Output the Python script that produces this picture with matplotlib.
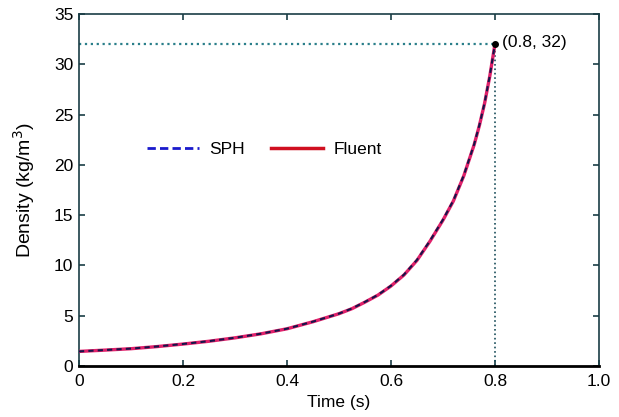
import matplotlib
matplotlib.use("Agg")
import matplotlib.pyplot as plt
from matplotlib.lines import Line2D

plt.rcParams['font.family'] = ['Liberation Sans', 'DejaVu Sans']

time_fluent = [0.0, 0.05, 0.1, 0.15, 0.2, 0.25, 0.3, 0.35, 0.4, 0.45, 0.5, 0.525, 0.55,
               0.575, 0.6, 0.625, 0.65, 0.675, 0.7, 0.72, 0.74, 0.76, 0.77, 0.78, 0.79, 0.8]
dens_fluent = [1.45, 1.58, 1.72, 1.93, 2.18, 2.46, 2.8, 3.2, 3.7, 4.4, 5.2, 5.7, 6.35,
               7.05, 7.95, 9.05, 10.5, 12.4, 14.5, 16.4, 18.9, 22.0, 23.9, 26.1, 28.8, 32.0]
time_sph = [0.0, 0.05, 0.1, 0.15, 0.2, 0.25, 0.3, 0.35, 0.4, 0.45, 0.5, 0.525, 0.55,
            0.575, 0.6, 0.625, 0.65, 0.675, 0.7, 0.72, 0.74, 0.76, 0.77, 0.78, 0.79, 0.8]
dens_sph = [1.45, 1.59, 1.73, 1.94, 2.19, 2.47, 2.81, 3.21, 3.71, 4.41, 5.21, 5.72, 6.37,
            7.07, 7.98, 9.08, 10.55, 12.45, 14.55, 16.45, 18.95, 22.05, 23.95, 26.15, 28.85, 32.0]
x_ticks = [0, 0.2, 0.4, 0.6, 0.8, 1.0]
x_labels = ['0', '0.2', '0.4', '0.6', '0.8', '1.0']
y_ticks = [0, 5, 10, 15, 20, 25, 30, 35]
end_point = (0.8, 32)

fig = plt.figure(figsize=(6.19, 4.17), dpi=100)
ax = fig.add_axes([0.1276, 0.1223, 0.840, 0.8441])

teal = '#2a7f8a'
ax.plot([0, end_point[0]], [end_point[1], end_point[1]], linestyle=':', color=teal, lw=1.6)
ax.plot([end_point[0], end_point[0]], [0, end_point[1]], linestyle=':', color='#1a4d5a', lw=1.2)

ax.plot(time_fluent, dens_fluent, color='#e0206a', lw=2.4, label='Fluent', zorder=3,
        solid_joinstyle='round')
ax.plot(time_sph, dens_sph, color='#15154a', lw=1.5, linestyle=(0, (2.5, 2)), label='SPH',
        zorder=4)
ax.plot([end_point[0]], [end_point[1]], marker='o', color='black', ms=4, zorder=5)
ax.annotate('(0.8, 32)', xy=end_point, xytext=(5, 1), textcoords='offset points',
            fontsize=12.5, va='center', ha='left')

h_sph = Line2D([], [], color='#1a1acc', lw=2, linestyle=(0, (3, 1.5)))
h_fl = Line2D([], [], color='#d01020', lw=2.5)
ax.legend([h_sph, h_fl], ['SPH', 'Fluent'], ncol=2, frameon=False, fontsize=12.5,
          loc='center left', bbox_to_anchor=(0.1, 0.615), handlelength=3, columnspacing=1.5,
          handletextpad=0.6)

ax.set_xlim(0, 1.0)
ax.set_ylim(0, 35)
ax.set_xticks(x_ticks)
ax.set_xticklabels(x_labels)
ax.set_yticks(y_ticks)
ax.tick_params(direction='in', top=True, right=True, labelsize=12.5, length=4, width=1.2, pad=4,
               color='#1a3d45')
ax.tick_params(axis='x', pad=6)
for s in ax.spines.values():
    s.set_color('#1a3d45')
    s.set_linewidth(1.2)
ax.spines['bottom'].set_color('black')
ax.spines['bottom'].set_linewidth(2)
ax.set_xlabel('Time (s)', fontsize=12.5, labelpad=4)
ax.set_ylabel('Density (kg/m$^3$)', fontsize=14, labelpad=12)

fig.savefig('out.png', dpi=100)
